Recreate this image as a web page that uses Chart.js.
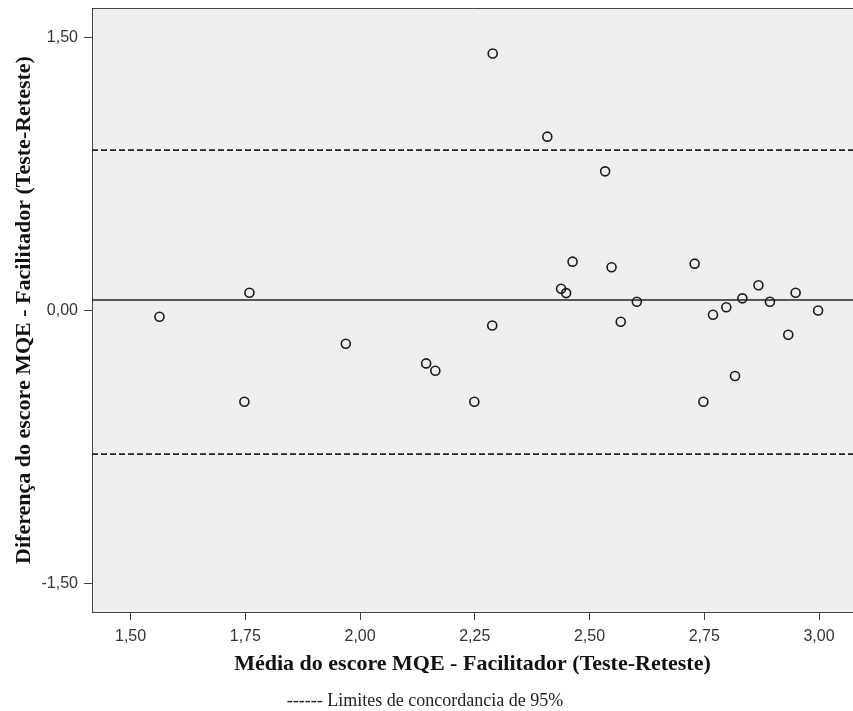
<!DOCTYPE html>
<html>
<head>
<meta charset="utf-8">
<script src="https://cdn.jsdelivr.net/npm/chart.js@4.4.1/dist/chart.umd.min.js"></script>
<style>
  body { margin: 0; background: #fff; }
  #wrap { width: 853px; height: 711px; }
</style>
</head>
<body>
<div id="wrap"><canvas id="blandAltman" width="853" height="711"></canvas></div>
<script>
// media (teste-reteste) e diferenca
var meanX = [1.563, 1.748, 1.759, 1.969, 2.144, 2.164, 2.249, 2.288, 2.289, 2.408,
             2.438, 2.449, 2.463, 2.534, 2.548, 2.568, 2.603, 2.729, 2.748, 2.769,
             2.798, 2.817, 2.833, 2.868, 2.893, 2.933, 2.949, 2.998];
var diffY = [-0.034, -0.502, 0.098, -0.183, -0.291, -0.331, -0.502, -0.082, 1.415, 0.957,
             0.120, 0.096, 0.269, 0.766, 0.238, -0.062, 0.048, 0.258, -0.502, -0.023,
             0.018, -0.360, 0.067, 0.139, 0.048, -0.133, 0.098, 0.000];
var meanDiff = 0.058;
var limits = [0.883, -0.790];
var xTicks = [1.50, 1.75, 2.00, 2.25, 2.50, 2.75, 3.00];
var yTicks = [-1.50, 0.00, 1.50];
var xRange = [1.416, 3.074];
var yRange = [-1.659, 1.665];

function fmt(v) {
	return v.toFixed(2).replace('.', ',');
}

var points = [];
for (var i = 0; i < meanX.length; i++) {
	points.push({x: meanX[i], y: diffY[i]});
}

function hline(val, dash) {
	return {
		data: [{x: xRange[0], y: val}, {x: xRange[1], y: val}],
		showLine: true,
		borderColor: '#222',
		borderWidth: 1.6,
		borderDash: dash,
		pointRadius: 0,
		fill: false
	};
}

var plotBg = {
	id: 'plotBg',
	beforeDraw: function(chart) {
		var a = chart.chartArea, ctx = chart.ctx;
		ctx.save();
		ctx.fillStyle = '#efefef';
		ctx.fillRect(a.left, a.top, a.right - a.left, a.bottom - a.top);
		ctx.strokeStyle = '#444';
		ctx.lineWidth = 1;
		ctx.beginPath();
		ctx.moveTo(a.left + 0.5, a.bottom);
		ctx.lineTo(a.left + 0.5, a.top + 0.5);
		ctx.lineTo(a.right, a.top + 0.5);
		ctx.stroke();
		ctx.restore();
	},
	afterDraw: function(chart) {
		var ctx = chart.ctx;
		ctx.save();
		ctx.font = '18px "Liberation Serif"';
		ctx.fillStyle = '#222';
		ctx.textAlign = 'center';
		ctx.textBaseline = 'middle';
		ctx.fillText('------ Limites de concordancia de 95%', 425, 701);
		ctx.restore();
	}
};

new Chart('blandAltman', {
	type: 'scatter',
	data: {
		datasets: [
			{
				data: points,
				pointRadius: 4.5,
				pointHoverRadius: 4.5,
				pointBorderWidth: 1.6,
				borderColor: '#1a1a1a',
				backgroundColor: 'rgba(0,0,0,0)'
			},
			hline(meanDiff, []),
			hline(limits[0], [6, 3]),
			hline(limits[1], [6, 3])
		]
	},
	plugins: [plotBg],
	options: {
		responsive: false,
		animation: false,
		layout: { autoPadding: false, padding: { top: 8, right: 0, bottom: 0, left: 0 } },
		plugins: {
			legend: { display: false },
			tooltip: { enabled: false }
		},
		scales: {
			x: {
				type: 'linear',
				min: xRange[0],
				max: xRange[1],
				afterBuildTicks: function(s) {
					s.ticks = xTicks.map(function(v) { return {value: v}; });
				},
				afterFit: function(s) {
					s.height = 99;
					s.paddingLeft = 0;
					s.paddingRight = 0;
				},
				grid: { drawOnChartArea: false, drawTicks: true, tickLength: 8, tickColor: '#444' },
				border: { display: true, color: '#444', width: 1 },
				ticks: {
					padding: 7,
					maxRotation: 0,
					color: '#333',
					font: { family: 'Liberation Sans', size: 16 },
					callback: function(v) { return fmt(v); }
				},
				title: {
					display: true,
					text: 'Média do escore MQE - Facilitador (Teste-Reteste)',
					color: '#111',
					font: { family: 'Liberation Serif', size: 22, weight: 'bold' },
					padding: { top: 0, bottom: 33 }
				}
			},
			y: {
				type: 'linear',
				min: yRange[0],
				max: yRange[1],
				afterBuildTicks: function(s) {
					s.ticks = yTicks.map(function(v) { return {value: v}; });
				},
				afterFit: function(s) {
					s.width = 92;
					s.paddingTop = 0;
					s.paddingBottom = 0;
				},
				grid: { drawOnChartArea: false, drawTicks: true, tickLength: 8, tickColor: '#444' },
				border: { display: true, color: '#444', width: 1 },
				ticks: {
					padding: 6,
					color: '#333',
					font: { family: 'Liberation Sans', size: 16 },
					callback: function(v) { return fmt(v); }
				},
				title: {
					display: true,
					text: 'Diferença do escore MQE - Facilitador (Teste-Reteste)',
					color: '#111',
					font: { family: 'Liberation Serif', size: 22, weight: 'bold' },
					padding: { top: 11, bottom: 0 }
				}
			}
		}
	}
});
</script>
</body>
</html>
